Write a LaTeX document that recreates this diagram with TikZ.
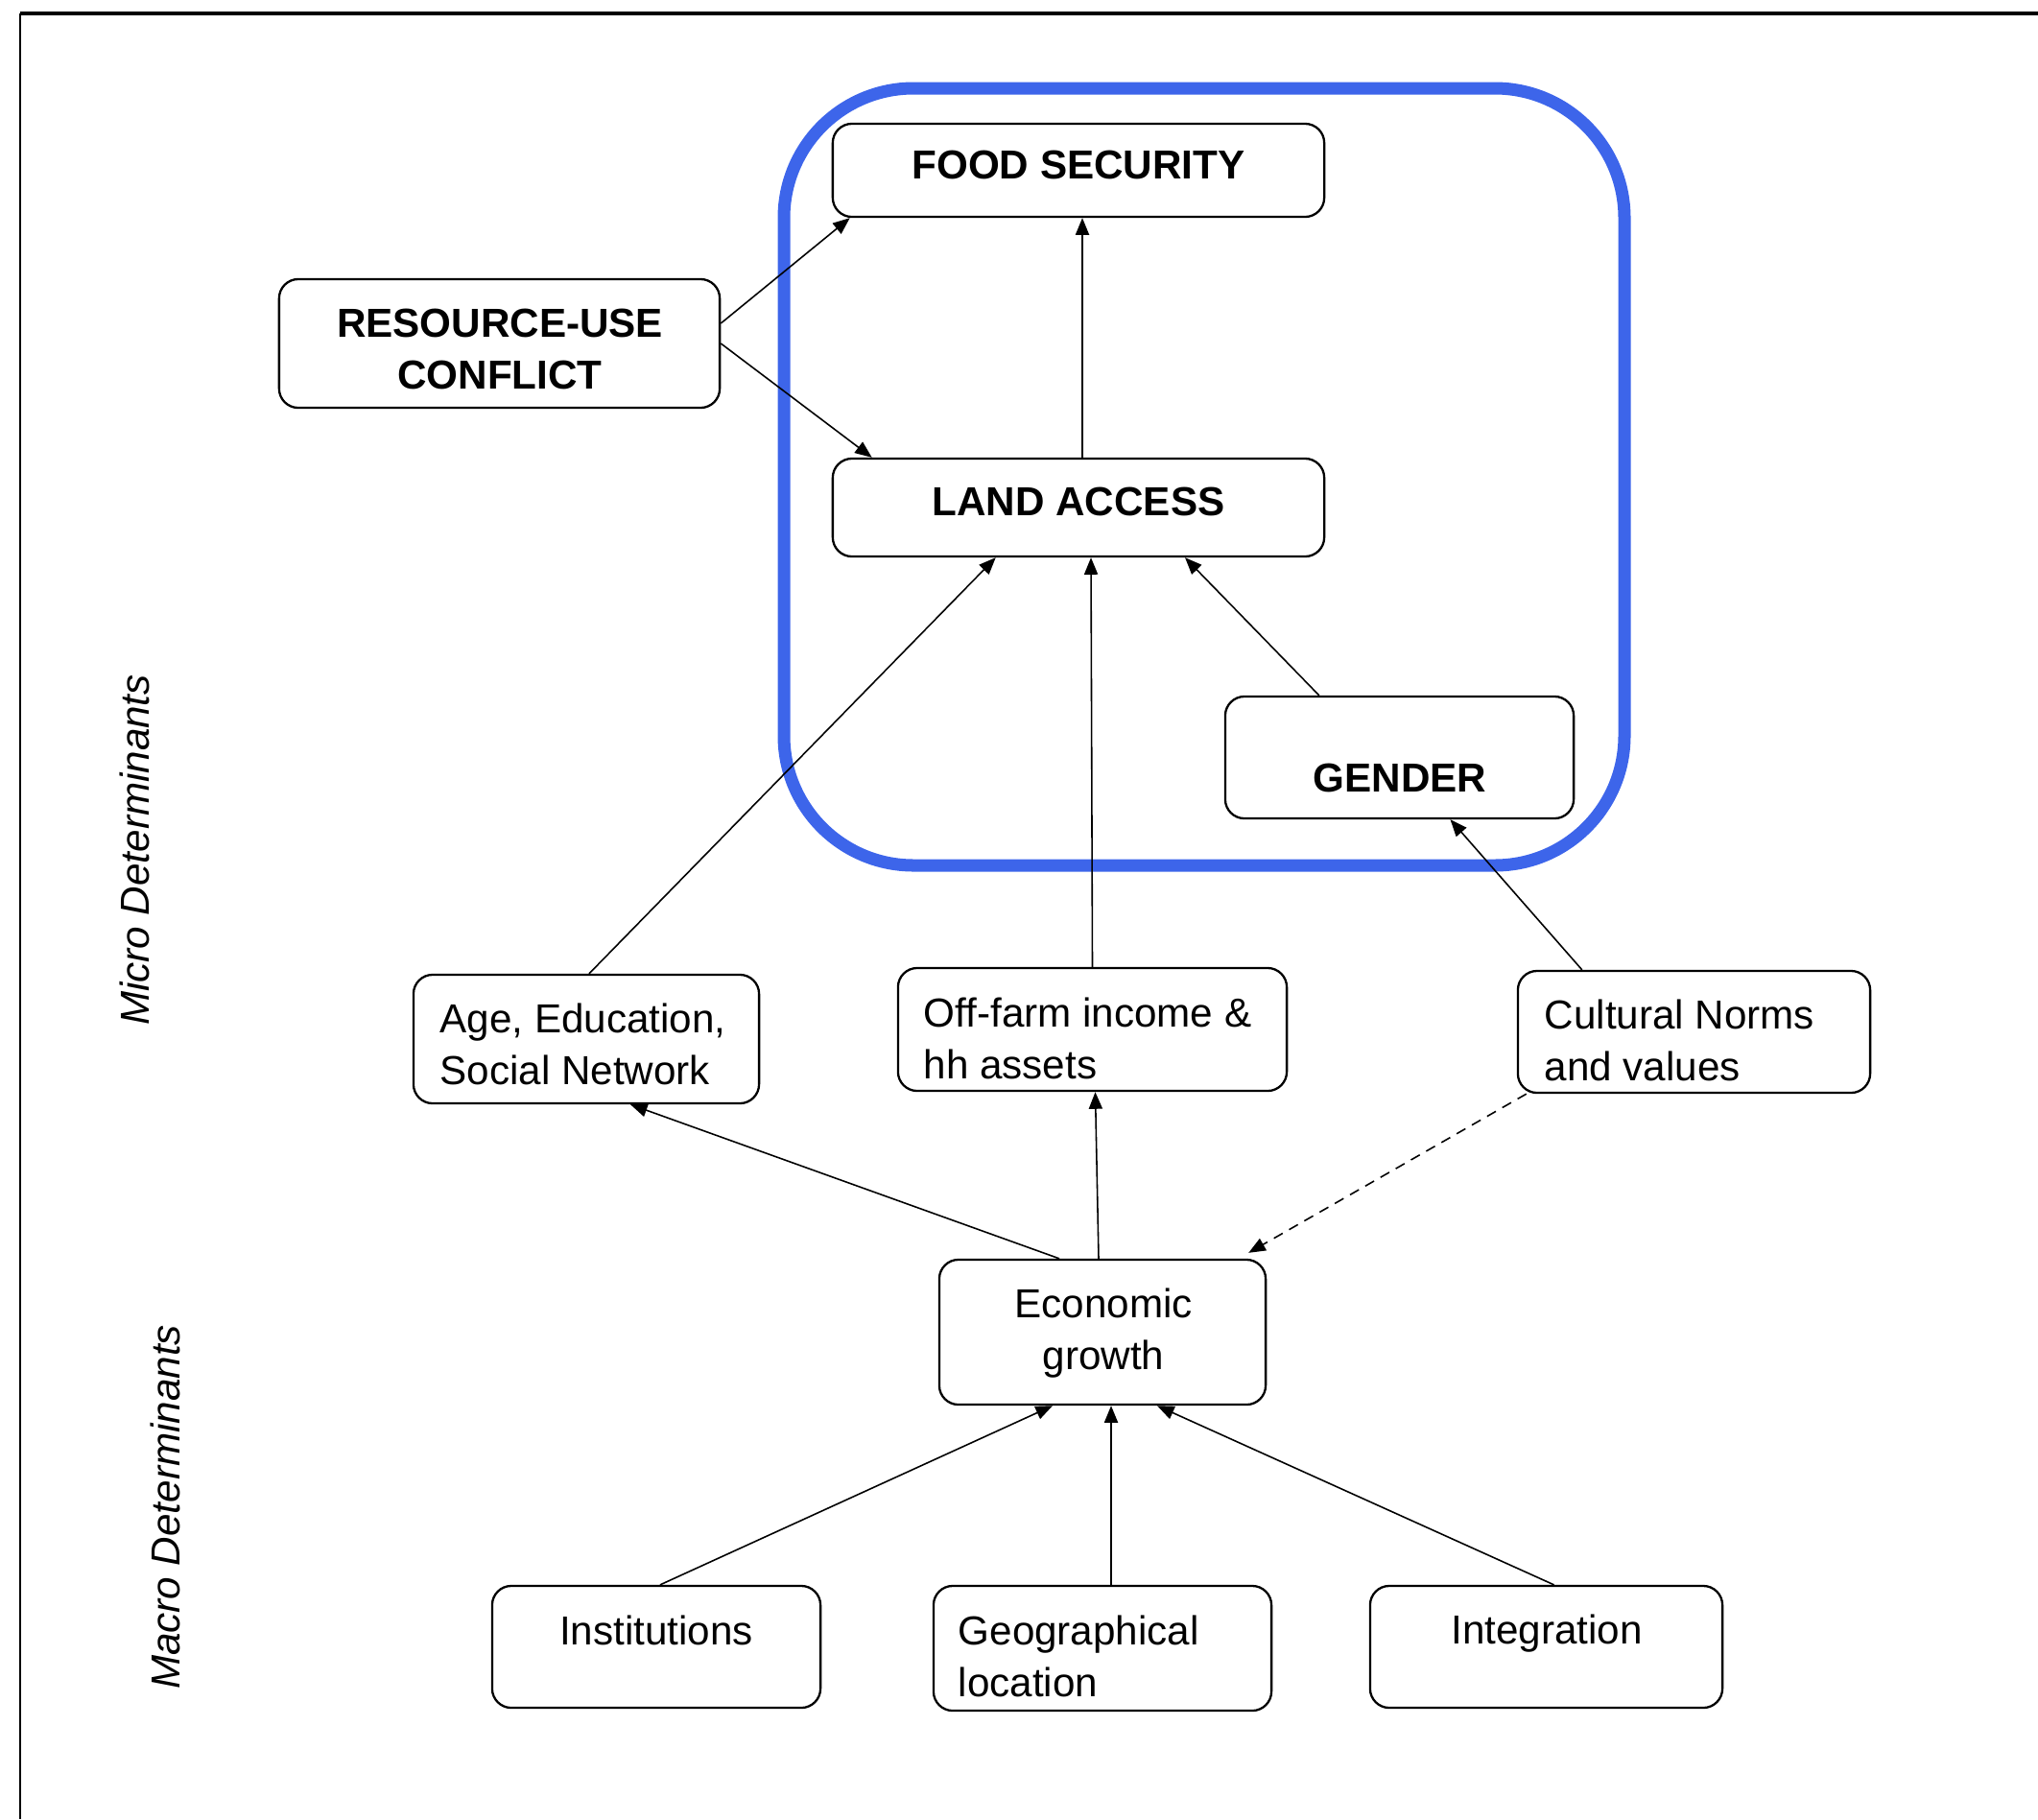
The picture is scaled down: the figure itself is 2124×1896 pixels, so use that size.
\documentclass[tikz,border=0pt]{standalone}
\usepackage{fontspec}
\setmainfont{Liberation Sans}
\usepackage{xcolor}
\usepackage{tikz}
\usetikzlibrary{arrows.meta,calc}

\definecolor{ringblue}{RGB}{61,101,234}

\begin{document}
\begin{tikzpicture}[x=0.01cm, y=-0.01cm,
  box/.style={draw, line width=0.65pt, rounded corners=0.2cm, fill=white, inner sep=0pt},
  lbl/.style={inner sep=0pt, font=\fontsize{12}{15.4}\selectfont},
  bold/.style={lbl, font=\fontsize{12}{15.4}\selectfont\bfseries},
  arr/.style={-{Triangle[length=5pt,width=4pt]}, line width=0.45pt}]
\useasboundingbox (0,0) rectangle (2124,1896);

% Frame lines (top and left only)
\draw[line width=0.9pt] (21,14) -- (2124,14);
\draw[line width=0.5pt] (21,14) -- (21,1896);

% Blue ring round the core
\draw[ringblue, line width=3.7pt, rounded corners=1.35cm] (817,92) rectangle (1693,902);

% Boxes
\node[box, minimum width=5.12cm, minimum height=0.97cm] (fs) at (1124,177.5) {};
\node[box, minimum width=4.59cm, minimum height=1.34cm] (rc) at (520.5,358) {};
\node[box, minimum width=5.12cm, minimum height=1.02cm] (la) at (1124,529) {};
\node[box, minimum width=3.63cm, minimum height=1.27cm] (gen) at (1458.5,789.5) {};
\node[box, minimum width=3.60cm, minimum height=1.34cm] (age) at (611,1083) {};
\node[box, minimum width=4.05cm, minimum height=1.28cm] (off) at (1138.5,1073) {};
\node[box, minimum width=3.67cm, minimum height=1.27cm] (cult) at (1765.5,1075.5) {};
\node[box, minimum width=3.40cm, minimum height=1.51cm] (econ) at (1149,1388.5) {};
\node[box, minimum width=3.42cm, minimum height=1.27cm] (inst) at (684,1716.5) {};
\node[box, minimum width=3.52cm, minimum height=1.30cm] (geo) at (1149,1718) {};
\node[box, minimum width=3.67cm, minimum height=1.27cm] (integ) at (1611.5,1716.5) {};

% Box texts
\node[bold, anchor=north] (fs-t) at (1124,156) {FOOD SECURITY};
\node[bold, anchor=north, align=center] (rc-t) at (521,321) {RESOURCE-USE\\CONFLICT};
\node[bold, anchor=north] (la-t) at (1124,507) {LAND ACCESS};
\node[bold, anchor=north] (gen-t) at (1459,795) {GENDER};
\node[lbl, anchor=north west, align=left] (age-t) at (458,1045) {Age, Education,\\Social Network};
\node[lbl, anchor=north west, align=left] (off-t) at (962,1039) {Off-farm income \&\\hh assets};
\node[lbl, anchor=north west, align=left] (cult-t) at (1609,1041) {Cultural Norms\\and values};
\node[lbl, anchor=north, align=center] (econ-t) at (1150,1342) {Economic\\growth};
\node[lbl, anchor=north] (inst-t) at (684,1683) {Institutions};
\node[lbl, anchor=north west, align=left] (geo-t) at (998,1683) {Geographical\\location};
\node[lbl, anchor=north] (integ-t) at (1612,1682) {Integration};

% Side labels
\node[lbl, rotate=90, font=\fontsize{12}{15.4}\selectfont\itshape] (micro) at (140,886) {Micro Determinants};
\node[lbl, rotate=90, font=\fontsize{12}{15.4}\selectfont\itshape] (macro) at (172,1571) {Macro Determinants};

% Upper links
\draw[arr] ($(rc.east)+(0,-21)$) -- ($(fs.south west)+(19,0)$);
\draw[arr] (rc.east) -- ($(la.north west)+(42,0)$);
\draw[arr] ($(la.north)+(4,0)$) -- ($(fs.south)+(4,0)$);

% Micro determinants to land access
\draw[arr] ($(age.north)+(3,0)$) -- ($(la.south west)+(171,0)$);
\draw[arr] (off.north) -- ($(la.south)+(13,0)$);
\draw[arr] ($(gen.north west)+(99,0)$) -- ($(la.south)+(111,0)$);
\draw[arr] ($(cult.north west)+(68,0)$) -- ($(gen.south)+(53,0)$);

% Economic growth upwards
\draw[arr] ($(econ.north)+(-45,0)$) -- ($(age.south)+(46,0)$);
\draw[arr] ($(econ.north)+(-4,0)$) -- ($(off.south)+(3,0)$);
\draw[arr, dash pattern=on 3pt off 2.2pt] ($(cult.south west)+(10,0)$) -- ($(econ.north east)+(-19,-6)$);

% Macro determinants
\draw[arr] ($(inst.north)+(4,0)$) -- ($(econ.south)+(-52,0)$);
\draw[arr] ($(geo.north)+(9,0)$) -- ($(econ.south)+(9,0)$);
\draw[arr] ($(integ.north)+(8,0)$) -- ($(econ.south)+(57,0)$);
\end{tikzpicture}
\end{document}
